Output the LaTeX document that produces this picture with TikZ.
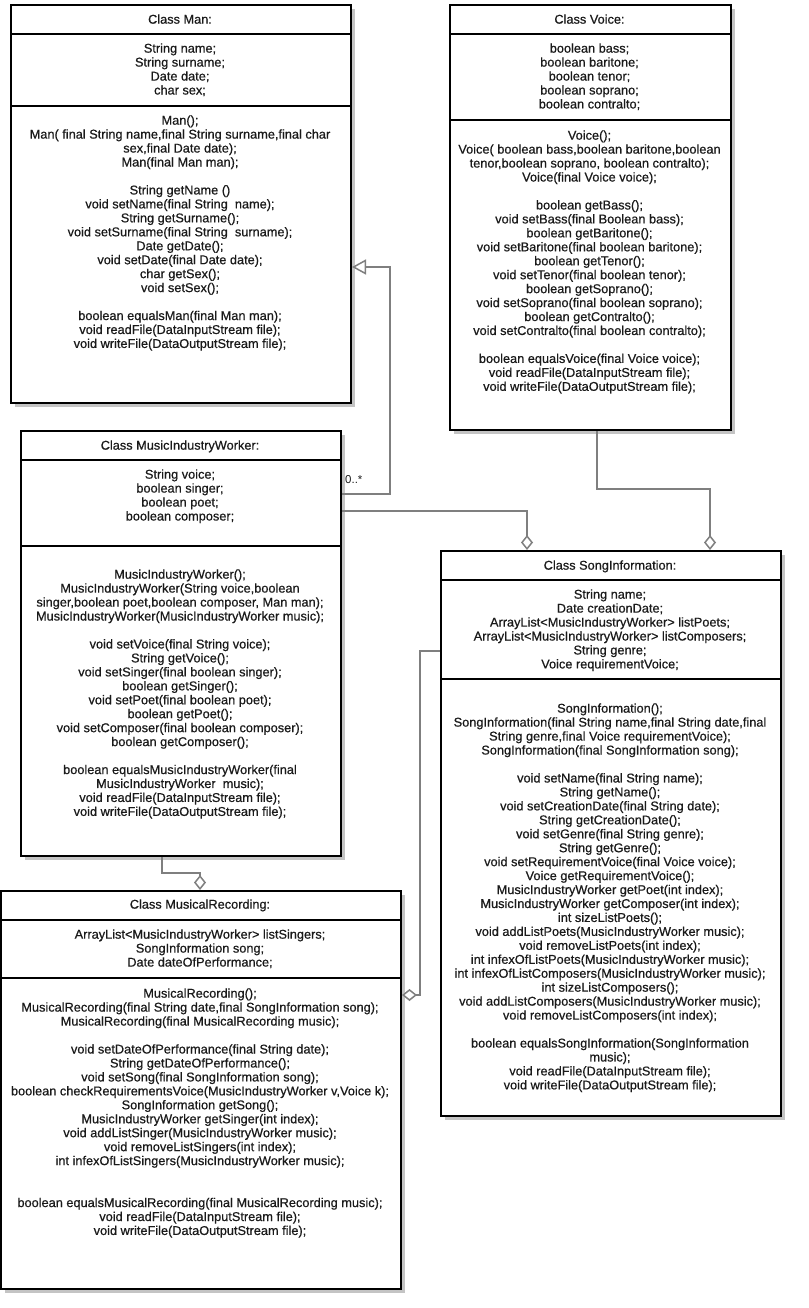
\documentclass[tikz,border=0pt]{standalone}
\usepackage{fontspec}
\setmainfont{Liberation Sans}[BoldFont={Liberation Sans}, BoldFeatures={FakeBold=0.6}]
\usetikzlibrary{arrows.meta}
\definecolor{shadowc}{HTML}{C4C4C4}
\definecolor{connc}{HTML}{7F7F7F}
\definecolor{txtc}{HTML}{1A1A1A}
\tikzset{
  cls/.style={draw=black, line width=2bp, fill=white, inner sep=0pt, anchor=north west},
  sepline/.style={draw=black, line width=2bp},
  conn/.style={draw=connc, line width=1.5bp},
  txt/.style={font=\fontsize{12.8}{14}\selectfont\bfseries, text=txtc, align=center, inner sep=0pt, anchor=north},
  mult/.style={font=\fontsize{11.5}{13}\selectfont, text=txtc, inner sep=0pt, anchor=west},
  diam/.style={-{Diamond[open,length=15bp,width=12bp,line width=1.5bp]}},
  inh/.style={-{Triangle[open,length=14bp,width=15bp,line width=1.5bp]}}
}
\newcommand{\umlbox}[7]{%
  % #1 name, #2 x, #3 y, #4 w, #5 h, #6 sep1, #7 sep2
  \fill[shadowc] (#2+5,#3+5) rectangle (#2+#4+5,#3+#5+5);
  \draw[shadowc, line width=1.5bp] (#2+#4,#6+4) -- (#2+#4+5,#6+4);
  \draw[shadowc, line width=1.5bp] (#2+#4,#7+4) -- (#2+#4+5,#7+4);
  \node[cls, minimum width=#4 bp, minimum height=#5 bp] (#1) at (#2,#3) {};
  \draw[sepline] (#1.west |- 0,#6) -- (#1.east |- 0,#6);
  \draw[sepline] (#1.west |- 0,#7) -- (#1.east |- 0,#7);
}
\begin{document}
\begin{tikzpicture}[x=1bp, y=-1bp]
\useasboundingbox (0,0) rectangle (808,1308);

% ---------- Class Man ----------
\umlbox{man}{10}{4}{340}{398}{34}{106}
\node[txt] (manT) at (180,19-5.3) {\strut Class Man:};
\node[txt] (manA) at (180,48-5.3) {\strut String name;\\String surname;\\Date date;\\char sex;};
\node[txt] (manM) at (180,120-5.3) {\strut Man();\\
Man( final String name,final String surname,final char\\
sex,final Date date);\\
Man(final Man man);\\[14bp]
String getName ()\\
void setName(final String~ name);\\
String getSurname();\\
void setSurname(final String~ surname);\\
Date getDate();\\
void setDate(final Date date);\\
char getSex();\\
void setSex();\\[14bp]
boolean equalsMan(final Man man);\\
void readFile(DataInputStream file);\\
void writeFile(DataOutputStream file);};

% ---------- Class Voice ----------
\umlbox{voice}{449}{4}{281}{425}{34}{120}
\node[txt] (voiceT) at (589.5,19-5.3) {\strut Class Voice:};
\node[txt] (voiceA) at (589.5,48-5.3) {\strut boolean bass;\\boolean baritone;\\boolean tenor;\\boolean soprano;\\boolean contralto;};
\node[txt] (voiceM) at (589.5,135-5.3) {\strut Voice();\\
Voice( boolean bass,boolean baritone,boolean\\
tenor,boolean soprano, boolean contralto);\\
Voice(final Voice voice);\\[14bp]
boolean getBass();\\
void setBass(final Boolean bass);\\
boolean getBaritone();\\
void setBaritone(final boolean baritone);\\
boolean getTenor();\\
void setTenor(final boolean tenor);\\
boolean getSoprano();\\
void setSoprano(final boolean soprano);\\
boolean getContralto();\\
void setContralto(final boolean contralto);\\[14bp]
boolean equalsVoice(final Voice voice);\\
void readFile(DataInputStream file);\\
void writeFile(DataOutputStream file);};

% ---------- Class MusicIndustryWorker ----------
\umlbox{miw}{20}{430}{320}{425}{460}{546}
\node[txt] (miwT) at (180,445-5.3) {\strut Class MusicIndustryWorker:};
\node[txt] (miwA) at (180,474-5.3) {\strut String voice;\\boolean singer;\\boolean poet;\\boolean composer;};
\node[txt] (miwM) at (180,574-5.3) {\strut MusicIndustryWorker();\\
MusicIndustryWorker(String voice,boolean\\
singer,boolean poet,boolean composer, Man man);\\
MusicIndustryWorker(MusicIndustryWorker music);\\[14bp]
void setVoice(final String voice);\\
String getVoice();\\
void setSinger(final boolean singer);\\
boolean getSinger();\\
void setPoet(final boolean poet);\\
boolean getPoet();\\
void setComposer(final boolean composer);\\
boolean getComposer();\\[14bp]
boolean equalsMusicIndustryWorker(final\\
MusicIndustryWorker~ music);\\
void readFile(DataInputStream file);\\
void writeFile(DataOutputStream file);};

% ---------- Class SongInformation ----------
\umlbox{song}{440}{550}{340}{565}{580}{679}
\node[txt] (songT) at (610,565-5.3) {\strut Class SongInformation:};
\node[txt] (songA) at (610,594-5.3) {\strut String name;\\Date creationDate;\\ArrayList<MusicIndustryWorker> listPoets;\\ArrayList<MusicIndustryWorker> listComposers;\\String genre;\\Voice requirementVoice;};
\node[txt] (songM) at (610,708-5.3) {\strut SongInformation();\\
SongInformation(final String name,final String date,final\\
String genre,final Voice requirementVoice);\\
SongInformation(final SongInformation song);\\[14bp]
void setName(final String name);\\
String getName();\\
void setCreationDate(final String date);\\
String getCreationDate();\\
void setGenre(final String genre);\\
String getGenre();\\
void setRequirementVoice(final Voice voice);\\
Voice getRequirementVoice();\\
MusicIndustryWorker getPoet(int index);\\
MusicIndustryWorker getComposer(int index);\\
int sizeListPoets();\\
void addListPoets(MusicIndustryWorker music);\\
void removeListPoets(int index);\\
int infexOfListPoets(MusicIndustryWorker music);\\
int infexOfListComposers(MusicIndustryWorker music);\\
int sizeListComposers();\\
void addListComposers(MusicIndustryWorker music);\\
void removeListComposers(int index);\\[14bp]
boolean equalsSongInformation(SongInformation\\
music);\\
void readFile(DataInputStream file);\\
void writeFile(DataOutputStream file);};

% ---------- Class MusicalRecording ----------
\umlbox{mr}{0}{890}{400}{398}{920}{978}
\node[txt] (mrT) at (200,904-5.3) {\strut Class MusicalRecording:};
\node[txt] (mrA) at (200,934-5.3) {\strut ArrayList<MusicIndustryWorker> listSingers;\\SongInformation song;\\Date dateOfPerformance;};
\node[txt] (mrM) at (200,993-5.3) {\strut MusicalRecording();\\
MusicalRecording(final String date,final SongInformation song);\\
MusicalRecording(final MusicalRecording music);\\[14bp]
void setDateOfPerformance(final String date);\\
String getDateOfPerformance();\\
void setSong(final SongInformation song);\\
boolean checkRequirementsVoice(MusicIndustryWorker v,Voice k);\\
SongInformation getSong();\\
MusicIndustryWorker getSinger(int index);\\
void addListSinger(MusicIndustryWorker music);\\
void removeListSingers(int index);\\
int infexOfListSingers(MusicIndustryWorker music);\\[28bp]
boolean equalsMusicalRecording(final MusicalRecording music);\\
void readFile(DataInputStream file);\\
void writeFile(DataOutputStream file);};

% ---------- Connectors ----------
\draw[conn, inh] (miw.east |- 0,494) -- (390,494) -- (390,267) -- (man.east |- 0,267);
\node[mult] (multMan) at (345,480) {0..*};
\draw[conn, diam] (miw.east |- 0,511) -| (song.north -| 527,0);
\draw[conn, diam] (voice.south -| 597,0) |- (710,489) -- (song.north -| 710,0);
\draw[conn, diam] (miw.south -| 162,0) |- (200,873) -- (mr.north -| 200,0);
\draw[conn, diam] (song.west |- 0,651) -- (420,651) -- (420,995) -- (mr.east |- 0,995);
\end{tikzpicture}
\end{document}
